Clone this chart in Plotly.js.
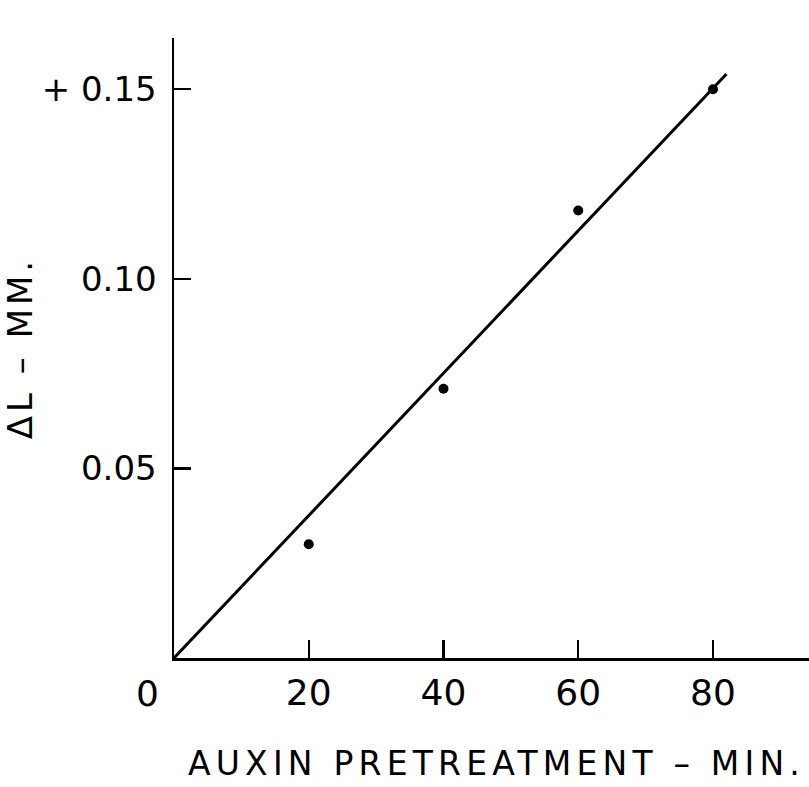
<!DOCTYPE html>
<html>
<head>
<meta charset="utf-8">
<script src="https://cdn.plot.ly/plotly-3.0.1.min.js"></script>
<style>
  html, body { margin: 0; padding: 0; background: #fff; }
  #chart { width: 809px; height: 787px; }
  .xtitle { letter-spacing: 5.2px; translate: 5px 0; }
  .ytitle { letter-spacing: 4px; translate: 5px 0; }
</style>
</head>
<body>
<div id="chart"></div>
<script>
// Observed data points (pretreatment minutes vs elongation change, mm)
const pretreatMin = [20, 40, 60, 80];
const deltaL = [0.030, 0.071, 0.118, 0.150];

// Fitted straight line drawn through the origin
const fitX = [0, 82];
const fitY = [0, 0.154];

// Tick values and labels
const xTickVals = [20, 40, 60, 80];
const xTickText = ['20', '40', '60', '80'];
const yTickVals = [0.05, 0.10, 0.15];
const yTickText = ['0.05', '0.10', '+ 0.15'];

const FONT = 'DejaVu Sans, sans-serif';

const traces = [
  {
    x: fitX, y: fitY, type: 'scatter', mode: 'lines',
    line: { color: '#000', width: 3 }, hoverinfo: 'skip', showlegend: false
  },
  {
    x: pretreatMin, y: deltaL, type: 'scatter', mode: 'markers',
    marker: { color: '#000', size: 10 }, showlegend: false
  }
];

const layout = {
  width: 809, height: 787,
  paper_bgcolor: '#fff', plot_bgcolor: '#fff',
  margin: { l: 174, r: 0, t: 38, b: 129, pad: 0 },
  showlegend: false,
  font: { family: FONT, color: '#000' },
  xaxis: {
    range: [0, 94.25], fixedrange: true,
    showgrid: false, zeroline: false,
    showline: true, linecolor: '#000', linewidth: 2.5,
    ticks: 'inside', ticklen: 18, tickwidth: 2.5, tickcolor: '#000',
    tickmode: 'array', tickvals: xTickVals, ticktext: xTickText,
    tickfont: { family: FONT, size: 36, color: '#000' },
    ticklabelstandoff: 1,
    title: { text: 'AUXIN PRETREATMENT – MIN.', font: { family: FONT, size: 33, color: '#000' }, standoff: 40 },
    automargin: false
  },
  yaxis: {
    range: [0, 0.1635], fixedrange: true,
    showgrid: false, zeroline: false,
    showline: true, linecolor: '#000', linewidth: 2.5,
    ticks: 'inside', ticklen: 17, tickwidth: 2.5, tickcolor: '#000',
    tickmode: 'array', tickvals: yTickVals, ticktext: yTickText,
    tickfont: { family: FONT, size: 34, color: '#000' },
    ticklabelstandoff: 8,
    title: { text: 'ΔL – MM.', font: { family: FONT, size: 34, color: '#000' }, standoff: 6 },
    automargin: false
  },
  annotations: [
    {
      x: 0, y: 0, xref: 'x', yref: 'y', text: '0', showarrow: false,
      xanchor: 'center', yanchor: 'middle', xshift: -27, yshift: -35,
      font: { family: FONT, size: 36, color: '#000' }
    }
  ]
};

Plotly.newPlot('chart', traces, layout, { staticPlot: true, displayModeBar: false });
</script>
</body>
</html>
